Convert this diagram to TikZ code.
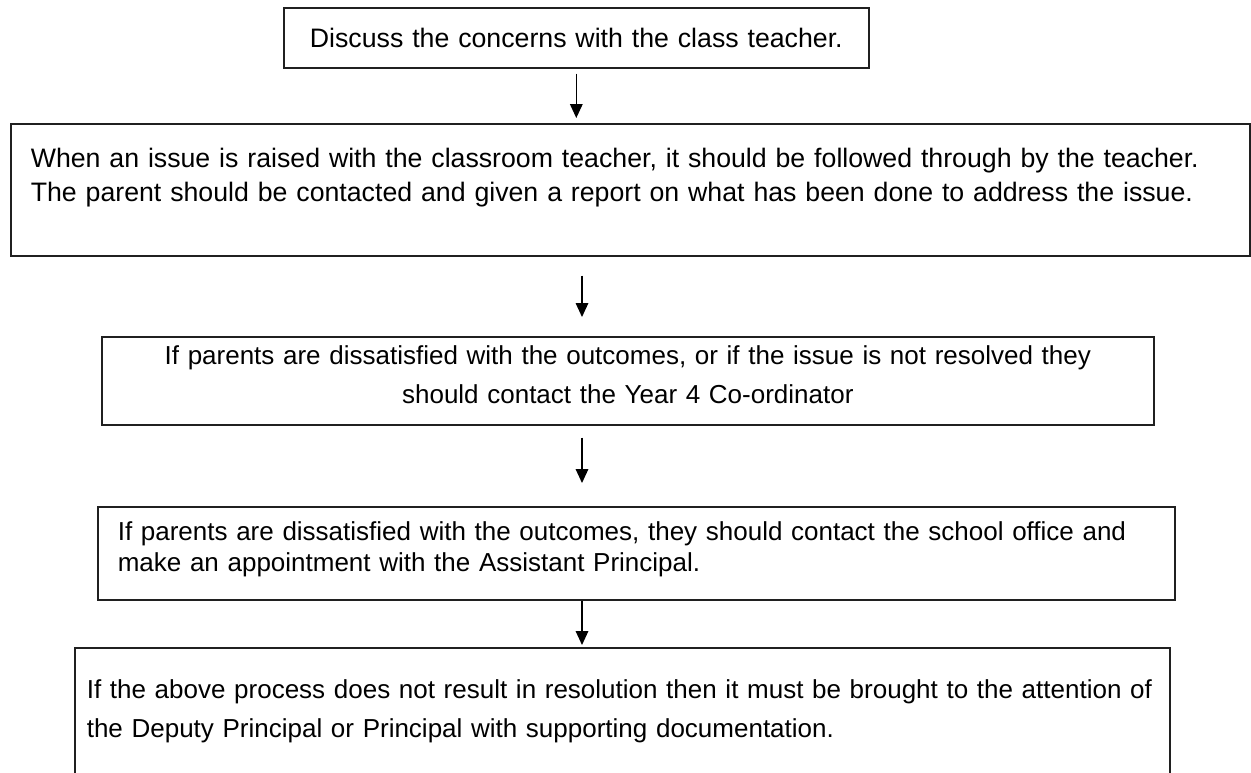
\documentclass[tikz,border=0pt]{standalone}
\usepackage{fontspec}
\setmainfont{Liberation Sans}
\usetikzlibrary{arrows.meta}
\definecolor{ink}{RGB}{0,0,0}
\definecolor{rule}{RGB}{32,32,32}

\begin{document}
\begin{tikzpicture}[x=0.5pt,y=-0.5pt,
  box/.style={draw=rule,line width=0.8pt,anchor=north west,inner ysep=0pt,text=ink},
  big/.style={font=\fontsize{13.35}{17}\selectfont},
  small/.style={font=\fontsize{13.0}{#1}\selectfont},
  flow/.style={draw=ink,line width=0.7pt,-{Triangle[length=7pt,width=6.3pt]}}]
\clip (0,0) rectangle (1251,772);
\fill[white] (0,0) rectangle (1251,772);
\coordinate (spine) at (582,0);
\node[box,big,align=center,inner xsep=4pt,text width=284.5pt,text height=20pt,text depth=10pt] (talk) at (283,7) {Discuss the concerns with the class teacher.};
\node[box,big,align=left,inner xsep=10pt,text width=599.5pt,text height=22pt,text depth=44pt] (follow) at (10,123) {When an issue is raised with the classroom teacher, it should be followed through by the teacher.\\The parent should be contacted and given a report on what has been done to address the issue.};
\node[box,small=19.5pt,align=center,inner xsep=10pt,text width=506pt,text height=14pt,text depth=30pt] (coord) at (101,336) {If parents are dissatisfied with the outcomes, or if the issue is not resolved they\\should contact the Year 4 Co-ordinator};
\node[box,small=15.5pt,align=left,inner xsep=10pt,text width=518.5pt,text height=17pt,text depth=29.5pt] (asst) at (97,506) {If parents are dissatisfied with the outcomes, they should contact the school office and\\make an appointment with the Assistant Principal.};
\node[box,small=19.5pt,align=left,inner xsep=6pt,text width=535.5pt,text height=25.5pt,text depth=60pt] (deputy) at (74,647) {If the above process does not result in resolution then it must be brought to the attention of\\the Deputy Principal or Principal with supporting documentation.};
\draw[flow,shorten <=2.5pt,shorten >=2.5pt] (talk.south) -- (talk.south |- follow.north);
\draw[flow,shorten <=9.5pt,shorten >=9.5pt] (follow.south -| spine) -- (coord.north -| spine);
\draw[flow,shorten <=6pt,shorten >=11.5pt] (coord.south -| spine) -- (asst.north -| spine);
\draw[flow,shorten >=1pt] (asst.south -| spine) -- (deputy.north -| spine);
\end{tikzpicture}
\end{document}
